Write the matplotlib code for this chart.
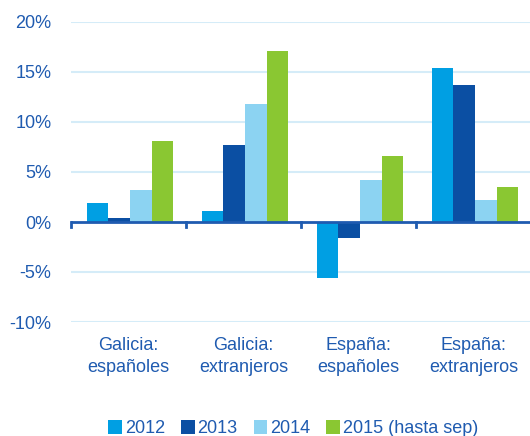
import numpy as np
import matplotlib.pyplot as plt
from matplotlib.patches import Patch

plt.rcParams['font.family'] = ['Liberation Sans', 'DejaVu Sans']

# Datos (% variación)
categorias = ['Galicia:\nespañoles', 'Galicia:\nextranjeros', 'España:\nespañoles', 'España:\nextranjeros']
series = ['2012', '2013', '2014', '2015 (hasta sep)']
v2012 = [1.9, 1.1, -5.6, 15.4]
v2013 = [0.4, 7.7, -1.6, 13.7]
v2014 = [3.2, 11.8, 4.2, 2.2]
v2015 = [8.1, 17.1, 6.6, 3.5]
colores = ['#009FE3', '#0B4FA3', '#8CD3F2', '#8AC732']

texto = '#1F5BB0'

fig = plt.figure(figsize=(5.30, 4.36), dpi=100)
ax = fig.add_axes([71/530, 114/436, 460/530, 300/436])

x = np.arange(len(categorias))
w = 0.188
for i, (vals, c) in enumerate(zip([v2012, v2013, v2014, v2015], colores)):
    ax.bar(x + (i - 1.5) * w + 0.012, vals, width=w, color=c, edgecolor='none', zorder=3)

ax.set_xlim(-0.5, 3.5)
ax.set_ylim(-10, 20)
ax.set_yticks(range(-10, 25, 5))
ax.set_yticklabels([f'{t}%' for t in range(-10, 25, 5)])
for t in range(-10, 25, 5):
    if t != 0:
        ax.axhline(t, color='#D5ECF8', lw=1.5, zorder=1)
ax.axhline(0, color=texto, lw=2, zorder=4)
# marcas de separación entre grupos
for b in [-0.5, 0.5, 1.5, 2.5]:
    ax.plot([b, b], [0, -0.5], color=texto, lw=2, zorder=4, clip_on=False)

for s in ax.spines.values():
    s.set_visible(False)
ax.tick_params(axis='y', length=0, pad=14, labelsize=13, labelcolor=texto)
ax.tick_params(axis='x', length=0)
ax.set_xticks([])

for xi, lab in zip(x, categorias):
    ax.text(xi + 0.0, -11.5, lab, ha='center', va='top', fontsize=13,
            color=texto, linespacing=1.35)

handles = [Patch(facecolor=c, edgecolor='none') for c in colores]
fig.legend(handles, series, loc='lower center', bbox_to_anchor=(0.553, -0.04), ncol=4,
           frameon=False, fontsize=13, handlelength=0.75, handleheight=0.75,
           handletextpad=0.15, columnspacing=0.9, labelcolor=texto)

plt.savefig('out.png', dpi=100)
